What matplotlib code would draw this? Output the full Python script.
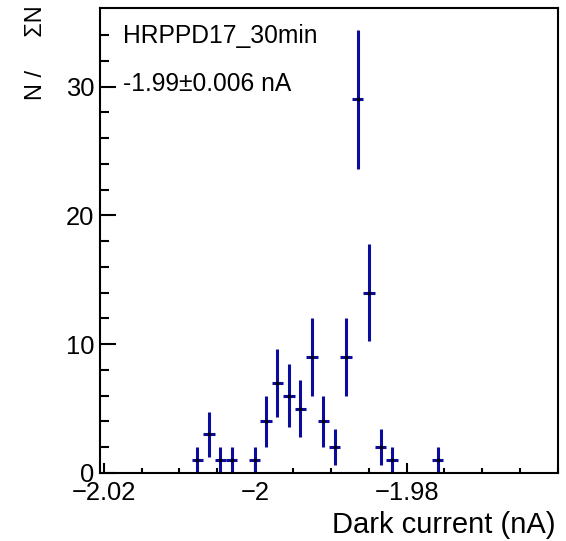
import matplotlib.pyplot as plt
import numpy as np

plt.rcParams['font.family'] = ['Liberation Sans', 'DejaVu Sans']

# histogram: 40 bins over the drawn range
x_min, x_max, n_bins = -2.0205, -1.9600, 40
counts = [0, 0, 0, 0, 0, 0, 0, 0, 1, 3,
          1, 1, 0, 1, 4, 7, 6, 5, 9, 4,
          2, 9, 29, 14, 2, 1, 0, 0, 0, 1,
          0, 0, 0, 0, 0, 0, 0, 0, 0, 0]
title = "HRPPD17_30min"
summary = "-1.99\u00b10.006 nA"
x_ticks = [-2.02, -2.0, -1.98]
x_ticklabels = ["\u22122.02", "\u22122", "\u22121.98"]

edges = np.linspace(x_min, x_max, n_bins + 1)
centers = 0.5 * (edges[:-1] + edges[1:])
width = edges[1] - edges[0]
counts = np.array(counts, dtype=float)
filled = counts > 0

fig = plt.figure(figsize=(5.66, 5.41), dpi=100)
ax = fig.add_axes([100 / 566, 1 - 473 / 541, 458 / 566, 465 / 541])

blue = '#0c0c9c'
ax.errorbar(centers[filled], counts[filled], yerr=np.sqrt(counts[filled]),
            xerr=width / 2, fmt='none', ecolor=blue, elinewidth=2.2, capsize=0)
ax.plot(centers[filled], counts[filled], 's', color='black', markersize=1.5)

ax.set_xlim(x_min, x_max)
ax.set_ylim(0, 36.1)
ax.set_xticks(x_ticks)
ax.set_xticklabels(x_ticklabels)
ax.set_xticks(np.arange(-2.02, -1.96, 0.005), minor=True)
ax.set_yticks([0, 10, 20, 30])
ax.set_yticks(np.arange(0, 36, 2), minor=True)

ax.tick_params(which='both', direction='in', top=False, right=False,
               labelsize=18.4, width=1.5)
ax.tick_params(axis='y', which='major', length=11.5, pad=4)
ax.tick_params(axis='y', which='minor', length=6.5)
ax.tick_params(axis='x', which='major', length=7.5, pad=6)
ax.tick_params(axis='x', which='minor', length=3.8)
for s in ax.spines.values():
    s.set_linewidth(1.5)

ax.set_xlabel("Dark current (nA)", fontsize=21, ha='right', va='center')
ax.xaxis.set_label_coords(455 / 458, -52 / 465)
ax.set_ylabel("N /     \u03a3N", fontsize=17, ha='right', va='center')
ax.yaxis.set_label_coords(-64 / 458, 1 + 3 / 465)

ax.text(23 / 458, 1 - 28 / 465, title, transform=ax.transAxes,
        fontsize=17.7, va='center', ha='left')
ax.text(23 / 458, 1 - 76 / 465, summary, transform=ax.transAxes,
        fontsize=17.7, va='center', ha='left')

fig.savefig('out.png', dpi=100)
